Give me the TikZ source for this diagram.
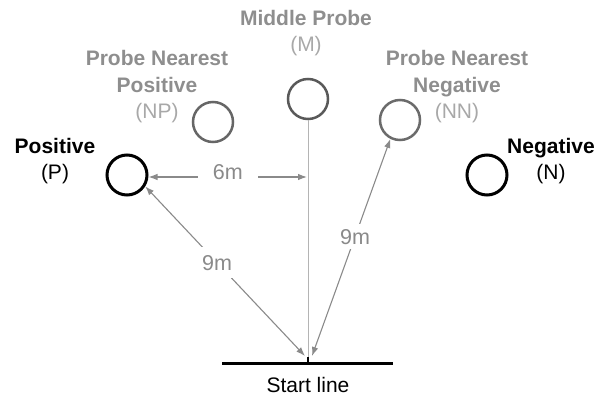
\documentclass[tikz,border=0pt]{standalone}
\usepackage{fontspec}
\setmainfont{Liberation Sans}
\usetikzlibrary{arrows.meta}
\definecolor{lbl}{HTML}{8E8E8E}
\definecolor{lbllight}{HTML}{A8A8A8}
\definecolor{arr}{HTML}{8A8A8A}
\definecolor{vline}{HTML}{B4B4B4}
\tikzset{
  probe/.style={circle, draw, minimum size=40pt, inner sep=0pt},
  txt/.style={font=\fontsize{21}{26.5}\selectfont, align=center, inner sep=0pt},
  dim/.style={draw=arr, line width=1.1pt, {Latex[length=9pt,width=6.5pt]}-{Latex[length=9pt,width=6.5pt]}},
  dimlbl/.style={font=\fontsize{21.5}{24}\selectfont, text=arr, fill=white, inner sep=8pt}
}
\begin{document}
\begin{tikzpicture}[x=1pt, y=-1pt]
\useasboundingbox (0,0) rectangle (598,396);
% probes
\node[probe, line width=3pt, draw=black] (P) at (127,175) {};
\node[probe, line width=2.5pt, draw=black!60] (NP) at (213,122) {};
\node[probe, line width=2.5pt, draw=black!65] (M) at (308,99) {};
\node[probe, line width=2.5pt, draw=black!58] (NN) at (400,120) {};
\node[probe, line width=3pt, draw=black] (N) at (487,175) {};
% labels
\node[txt] (Mlbl) at (306,33) {{\bfseries\color{lbl}Middle Probe}\\{\color{lbllight}(M)}};
\node[txt] (NPlbl) at (157,87) {{\bfseries\color{lbl}Probe Nearest}\\{\bfseries\color{lbl}Positive}\\{\color{lbllight}(NP)}};
\node[txt] (NNlbl) at (457,87) {{\bfseries\color{lbl}Probe Nearest}\\{\bfseries\color{lbl}Negative}\\{\color{lbllight}(NN)}};
\node[txt] (Plbl) at (55,161) {{\bfseries Positive}\\(P)};
\node[txt] (Nlbl) at (551,161) {{\bfseries Negative}\\(N)};
% start line
\coordinate (SL) at (222,363);
\coordinate (SR) at (393,363);
\coordinate (SM) at (308,363);
\coordinate (ST) at (308,357);
\coordinate (S1) at (305,356);
\coordinate (S2) at (312,356);
\coordinate (A6) at (307,177);
\draw[vline, line width=1pt] (M.south) -- (SM);
\draw[line width=3pt] (SL) -- (SR);
\draw[line width=2pt] (ST) -- (SM);
\node[txt] (start) at (308,385) {Start line};
% dimensions
\draw[dim] (P.east |- A6) -- node[dimlbl, pos=0.5, yshift=5pt, inner xsep=15pt, inner ysep=3pt] (d6) {6m} (A6);
\draw[dim] (P.-32) -- node[dimlbl, pos=0.45] (d9a) {9m} (S1);
\draw[dim] (S2) -- node[dimlbl, pos=0.55, inner sep=5pt] (d9b) {9m} (NN.-117);
\end{tikzpicture}
\end{document}
